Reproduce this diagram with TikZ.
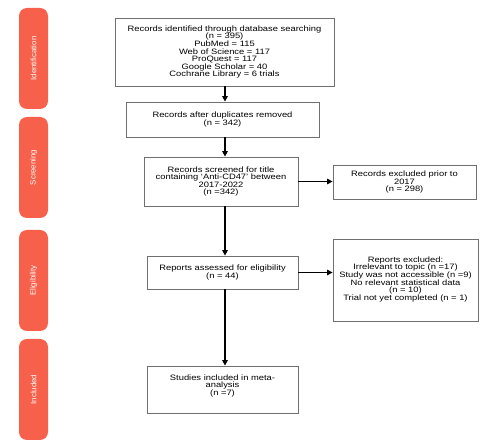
\documentclass[tikz,border=0pt]{standalone}
\usepackage{fontspec}
\setmainfont{Liberation Sans}[FakeStretch=1.2]
\newfontfamily\tabfont{Liberation Sans}
\usetikzlibrary{arrows.meta}
\definecolor{tabred}{HTML}{F7604B}
\definecolor{boxgray}{HTML}{707070}
\tikzset{
  box/.style={draw=boxgray, line width=0.8pt, fill=white, inner sep=0pt},
  txt/.style={align=center, font=\fontsize{7.8}{7.6}\selectfont, inner sep=0pt},
  tab/.style={fill=tabred, rounded corners=8pt, minimum width=29pt, minimum height=101pt, inner sep=0pt},
  tablabel/.style={text=white, rotate=90, font=\tabfont\fontsize{7.8}{8}\selectfont, inner sep=0pt},
  arr/.style={-{Triangle[length=5.5pt,width=5.5pt]}, line width=1.3pt, black}
}
\begin{document}
\begin{tikzpicture}[x=1pt,y=-1pt]
\useasboundingbox (0,0) rectangle (491,446);
\fill[white] (0,0) rectangle (491,446);
% tabs
\node[tab] (t1) at (33.5,58.5) {};
\node[tablabel] (t1l) at (t1.center) {Identification};
\node[tab] (t2) at (33.5,167.5) {};
\node[tablabel] (t2l) at (t2.center) {Screening};
\node[tab] (t3) at (33.5,280.5) {};
\node[tablabel] (t3l) at (t3.center) {Eligibility};
\node[tab] (t4) at (33.5,389.5) {};
\node[tablabel] (t4l) at (t4.center) {Included};
% boxes
\node[box, minimum width=219pt, minimum height=68pt] (b1) at (224.5,52) {};
\node[txt] (b1t) at (b1.center) {Records identified through database searching\\(n = 395)\\PubMed = 115\\Web of Science = 117\\ProQuest = 117\\Google Scholar = 40\\Cochrane Library = 6 trials};
\node[box, minimum width=193pt, minimum height=35pt] (b2) at (222.5,119.5) {};
\node[txt] (b2t) at (b2.center) {Records after duplicates removed\\(n = 342)};
\node[box, minimum width=154pt, minimum height=49pt] (b3) at (221,181.5) {};
\node[txt] (b3t) at (b3.center) {Records screened for title\\containing `Anti-CD47' between\\2017-2022\\(n =342)};
\node[box, minimum width=151pt, minimum height=33pt] (b4) at (222.5,272.5) {};
\node[txt] (b4t) at (b4.center) {Reports assessed for eligibility\\(n = 44)};
\node[box, minimum width=151pt, minimum height=47pt] (b5) at (222.5,389.5) {};
\node[txt] (b5t) at (222.5,385.7) {Studies included in meta-\\analysis\\(n =7)};
\node[box, minimum width=143pt, minimum height=34pt] (e1) at (404.5,182) {};
\node[txt] (e1t) at (e1.center) {Records excluded prior to\\2017\\(n = 298)};
\node[box, minimum width=145pt, minimum height=82pt] (e2) at (405.5,280) {};
\node[txt] (e2t) at (405.5,279.3) {Reports excluded:\\Irrelevant to topic (n =17)\\Study was not accessible (n =9)\\No relevant statistical data\\(n = 10)\\Trial not yet completed (n = 1)};
% arrows
\coordinate (ax) at (225,0);
\draw[arr] (b1.south -| ax) -- (b2.north -| ax);
\draw[arr] (b2.south -| ax) -- (b3.north -| ax);
\draw[arr] (b3.south -| ax) -- (b4.north -| ax);
\draw[arr] (b4.south -| ax) -- (b5.north -| ax);
\draw[arr] (b3.east) -- (b3.east -| e1.west);
\draw[arr] (b4.east) -- (b4.east -| e2.west);
\end{tikzpicture}
\end{document}
